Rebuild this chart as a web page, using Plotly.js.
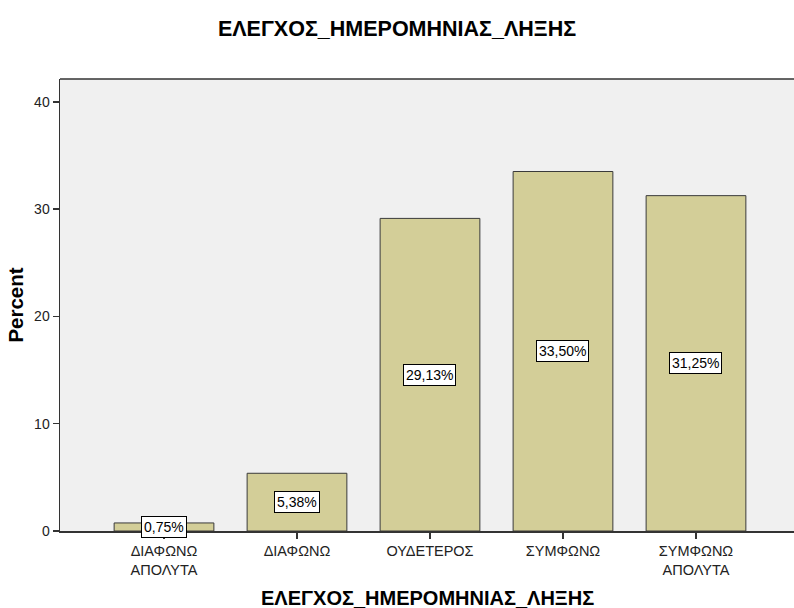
<!DOCTYPE html>
<html>
<head>
<meta charset="utf-8">
<script src="https://cdn.plot.ly/plotly-3.0.1.min.js"></script>
<style>html,body{margin:0;padding:0;background:#fff;}#chart{width:794px;height:608px;}</style>
</head>
<body>
<div id="chart"></div>
<script>
const categories = ["ΔΙΑΦΩΝΩ<br>ΑΠΟΛΥΤΑ", "ΔΙΑΦΩΝΩ", "ΟΥΔΕΤΕΡΟΣ", "ΣΥΜΦΩΝΩ", "ΣΥΜΦΩΝΩ<br>ΑΠΟΛΥΤΑ"];
const percents = [0.75, 5.38, 29.13, 33.50, 31.25];
const valueLabels = ["0,75%", "5,38%", "29,13%", "33,50%", "31,25%"];
const yTicks = [0, 10, 20, 30, 40];

const xIdx = categories.map((c, i) => i);
const FONT = 'Liberation Sans, Arial, sans-serif';

const trace = {
  type: 'bar',
  x: xIdx,
  y: percents,
  width: 0.75,
  marker: {color: '#d3ce98', line: {color: '#3a3a3a', width: 1}},
  hoverinfo: 'none'
};

const annotations = percents.map((v, i) => ({
  x: i, y: v / 2, xref: 'x', yref: 'y',
  text: valueLabels[i], showarrow: false,
  bgcolor: '#ffffff', bordercolor: '#000000', borderwidth: 1, borderpad: 2,
  font: {family: FONT, size: 14, color: '#000'}
}));
// x axis title
annotations.push({
  xref: 'paper', yref: 'paper', x: 0.5, y: (531 - 598) / 452,
  text: '<b>ΕΛΕΓΧΟΣ_ΗΜΕΡΟΜΗΝΙΑΣ_ΛΗΞΗΣ</b>', showarrow: false,
  xanchor: 'center', yanchor: 'middle',
  font: {family: FONT, size: 20, color: '#000'}
});

const layout = {
  width: 794, height: 608,
  margin: {l: 60, r: 0, t: 79, b: 77},
  paper_bgcolor: '#ffffff',
  plot_bgcolor: '#f0f0f0',
  showlegend: false,
  title: {
    text: '<b>ΕΛΕΓΧΟΣ_ΗΜΕΡΟΜΗΝΙΑΣ_ΛΗΞΗΣ</b>',
    xref: 'container', x: 0.5, xanchor: 'center',
    yref: 'container', y: 1 - 28/608, yanchor: 'middle',
    font: {family: FONT, size: 21.5, color: '#000'}
  },
  xaxis: {
    range: [-0.782, 4.737],
    tickvals: xIdx, ticktext: categories,
    ticks: 'outside', ticklen: 6, tickcolor: '#333', tickwidth: 1.5,
    showline: true, linecolor: '#333', linewidth: 1.5,
    showgrid: false, zeroline: false,
    tickfont: {family: FONT, size: 14.5, color: '#222'},
    fixedrange: true
  },
  yaxis: {
    range: [0, 42.12],
    tickvals: yTicks, ticktext: yTicks.map(String),
    ticks: 'outside', ticklen: 6, tickcolor: '#333', tickwidth: 1.5,
    showline: true, linecolor: '#333', linewidth: 1.5, mirror: false,
    showgrid: false, zeroline: false,
    tickfont: {family: FONT, size: 14, color: '#222'},
    title: {text: '<b>Percent</b>', standoff: 5,
      font: {family: FONT, size: 20.5, color: '#000'}},
    fixedrange: true
  },
  shapes: [{type: 'line', xref: 'paper', yref: 'paper', x0: 0, x1: 1, y0: 1, y1: 1,
            line: {color: '#333', width: 1.5}}],
  annotations: annotations
};

Plotly.newPlot('chart', [trace], layout, {staticPlot: true, displayModeBar: false});
</script>
</body>
</html>
